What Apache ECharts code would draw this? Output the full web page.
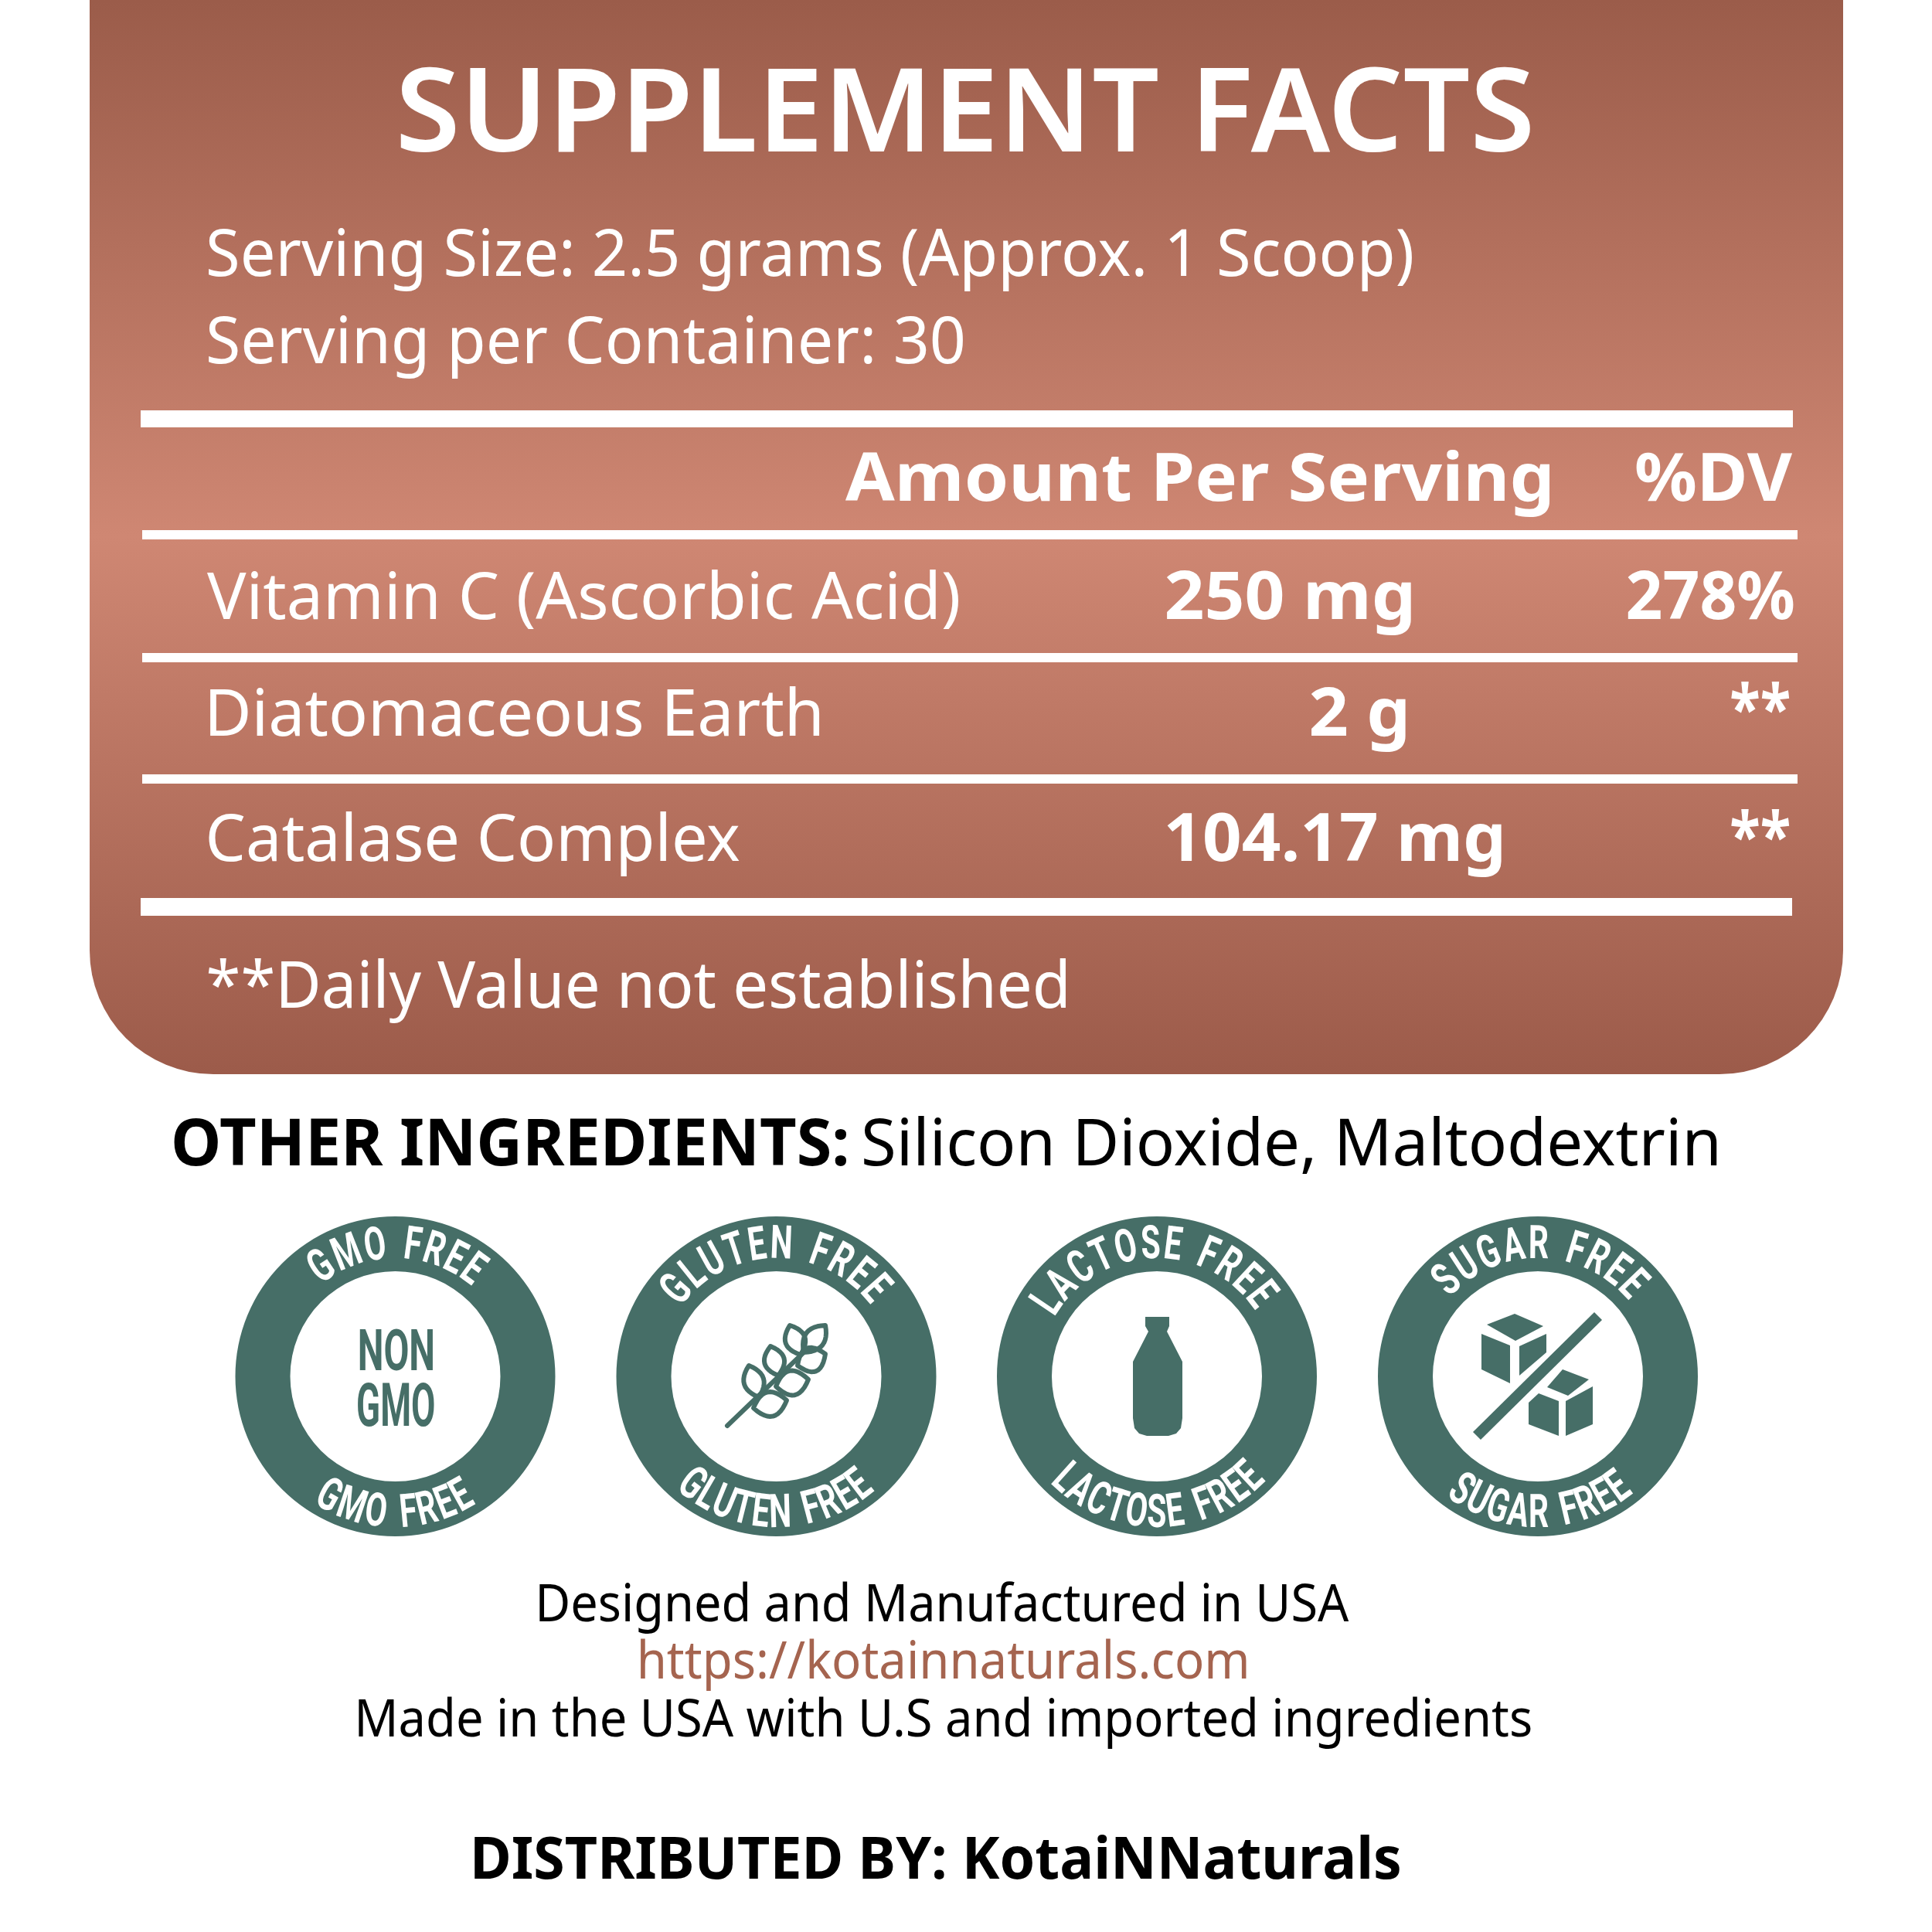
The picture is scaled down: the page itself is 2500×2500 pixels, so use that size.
<!DOCTYPE html>
<html><head><meta charset="utf-8">
<style>html,body{margin:0;padding:0;background:#fff}#c{width:2500px;height:2500px}</style>
<script src="https://cdn.jsdelivr.net/npm/echarts@6/dist/echarts.min.js"></script>
</head><body><div id="c"></div>
<script>
// ---- content ----
const titleText = 'SUPPLEMENT FACTS';
const servingLines = ['Serving Size: 2.5 grams (Approx. 1 Scoop)', 'Serving per Container: 30'];
const columnHeads = ['Amount Per Serving', '%DV'];
const ingredients = ['Vitamin C (Ascorbic Acid)', 'Diatomaceous Earth', 'Catalase Complex'];
const amounts = ['250 mg', '2 g', '104.17 mg'];
const dailyValues = ['278%', '**', '**'];
const footnote = '**Daily Value not established';
const otherLabel = 'OTHER INGREDIENTS:';
const otherValue = 'Silicon Dioxide, Maltodextrin';
const badgeLabels = ['GMO FREE', 'GLUTEN FREE', 'LACTOSE FREE', 'SUGAR FREE'];
const badgeCentre = ['NON', 'GMO'];
const madeLines = ['Designed and Manufactured in USA', 'https://kotainnaturals.com', 'Made in the USA with U.S and imported ingredients'];
const distributed = 'DISTRIBUTED BY: KotaiNNaturals';

// ---- style / layout ----
const FF = '"Noto Sans","Open Sans",sans-serif';
const NARROW = '"Liberation Sans Narrow","Roboto",sans-serif';
const TEAL = '#466e67', W = '#ffffff', K = '#000000';
const ctx = document.createElement('canvas').getContext('2d');
function fit(str, font, L, R, base, fill, z) {
  ctx.font = font; ctx.textBaseline = 'middle'; ctx.textAlign = 'left';
  const m = ctx.measureText(str);
  const ink = m.actualBoundingBoxRight + m.actualBoundingBoxLeft;
  const sx = (R - L) / ink;
  const H = ctx.measureText('H').actualBoundingBoxDescent;
  return { type: 'text', z: z || 5, x: L + 0.5 * m.actualBoundingBoxLeft * sx, y: base - H, scaleX: sx,
    style: { text: str, font, fill, textAlign: 'left', textVerticalAlign: 'middle' } };
}
function arc(cx, cy, r, str, a0, a1, bottom, font) {
  ctx.font = font; ctx.textBaseline = 'alphabetic'; ctx.textAlign = 'left';
  const adv = [...str].map(ch => ch === ' ' ? ctx.measureText('  ').width * 0.8 : ctx.measureText(ch).width);
  const pos = []; let s = 0;
  adv.forEach((w) => { pos.push(s + w / 2); s += w; });
  const first = pos[0], last = pos[pos.length - 1];
  const out = [];
  [...str].forEach((ch, i) => {
    if (ch === ' ') return;
    const d = (a0 + (a1 - a0) * (pos[i] - first) / (last - first)) * Math.PI / 180;
    out.push({ type: 'text', z: 6,
      x: cx + r * Math.sin(d), y: bottom ? cy + r * Math.cos(d) : cy - r * Math.cos(d),
      rotation: bottom ? d : -d, scaleX: 0.68,
      style: { text: ch, font, fill: W, textAlign: 'center', textVerticalAlign: 'middle' } });
  });
  return out;
}
function leaf(bx, by, tx, ty, b) {
  const dx = tx - bx, dy = ty - by, l = Math.hypot(dx, dy), nx = -dy / l, ny = dx / l;
  const pts = [];
  for (let k = 0; k <= 12; k++) {
    const u = k / 12, v = 4 * u * (1 - u) * b;
    pts.push([bx + dx * u + nx * v, by + dy * u + ny * v]);
  }
  for (let k = 11; k > 0; k--) {
    const u = k / 12, v = -4 * u * (1 - u) * b;
    pts.push([bx + dx * u + nx * v, by + dy * u + ny * v]);
  }
  return pts;
}
const panelStops = [
  { offset: 0, color: '#9b5c4a' }, { offset: 0.5, color: '#cf8773' }, { offset: 1, color: '#9c5b4a' }
];
const elements = [];
elements.push({ type: 'rect', z: 1, shape: { x: 116, y: 0, width: 2269, height: 1390, r: [0, 0, 160, 160] },
  style: { fill: { type: 'linear', x: 0, y: 0, x2: 0, y2: 1, colorStops: panelStops } } });
const rules = [[182, 531, 2138, 22], [184, 686, 2142, 12], [184, 845, 2142, 12], [184, 1002, 2142, 12], [182, 1162, 2137, 23]];
rules.forEach(r => elements.push({ type: 'rect', z: 2, shape: { x: r[0], y: r[1], width: r[2], height: r[3] }, style: { fill: W } }));

const REG = '400 84px ' + FF, BOLD = '700 86px ' + FF;
elements.push(fit(titleText, '600 150px ' + FF, 515, 1977, 196, W));
elements.push(fit(servingLines[0], REG, 268, 1825, 357, W));
elements.push(fit(servingLines[1], REG, 268, 1244, 470, W));
elements.push(fit(columnHeads[0], BOLD, 1094, 2006, 648, W));
elements.push(fit(columnHeads[1], BOLD, 2116, 2318, 648, W));
const rowBase = [801, 952, 1114], rowRight = [1240, 1057, 954];
const ampRange = [[1508, 1825], [1695, 1818], [1508, 1941]];
const dvRange = [[2105, 2319], [2239, 2315], [2239, 2315]], dvBase = [801, 948, 1113];
ingredients.forEach((s, i) => {
  elements.push(fit(s, REG, 268, rowRight[i], rowBase[i], W));
  elements.push(fit(amounts[i], BOLD, ampRange[i][0], ampRange[i][1], rowBase[i], W));
  elements.push(fit(dailyValues[i], BOLD, dvRange[i][0], dvRange[i][1], dvBase[i], W));
});
elements.push(fit(footnote, REG, 268, 1378, 1304, W));
elements.push(fit(otherLabel, '700 84px ' + FF, 223, 1094, 1508, K));
elements.push(fit(otherValue, '400 84px ' + FF, 1116, 2220, 1508, K));

const MID = '400 68px ' + FF;
elements.push(fit(madeLines[0], MID, 695, 1743, 2098, K));
elements.push(fit(madeLines[1], MID, 826, 1611, 2172, '#a5644f'));
elements.push(fit(madeLines[2], MID, 461, 1978, 2247, K));
elements.push(fit(distributed, '700 76px ' + FF, 611, 1808, 2431, K));

// ---- badges ----
const cxs = [511.5, 1004.5, 1497, 1990], CY = 1781;
const topSpan = [[-34, 36], [-49, 48.6], [-56, 52], [-43.5, 46]];
const botSpan = [[-29, 29], [-38, 37.5], [-42, 43], [-34, 36]];
const BF = '700 60px ' + NARROW;
cxs.forEach((cx, i) => {
  elements.push({ type: 'ring', z: 3, shape: { cx, cy: CY, r: 207, r0: 136 }, style: { fill: TEAL } });
  elements.push(...arc(cx, CY, 168, badgeLabels[i], topSpan[i][0], topSpan[i][1], false, BF));
  elements.push(...arc(cx, CY, 180, badgeLabels[i], botSpan[i][0], botSpan[i][1], true, BF));
});
// non-GMO
elements.push(fit(badgeCentre[0], '700 74px ' + NARROW, 464, 559, 1773, TEAL));
elements.push(fit(badgeCentre[1], '700 78px ' + NARROW, 462, 561, 1845, TEAL));
// wheat
const wheatLeaves = [
  [982, 1808, 969, 1767, 13], [1007, 1780, 997, 1742, 13], [1036, 1753, 1022, 1715, 13], [1040, 1750, 1068, 1715, 13],
  [975, 1822, 1018, 1812, 16], [1004, 1794, 1046, 1785, 16], [1032, 1767, 1068, 1752, 16]
];
const wheatStroke = { fill: null, stroke: TEAL, lineWidth: 6, lineCap: 'round', lineJoin: 'round' };
elements.push({ type: 'polyline', z: 4, shape: { points: [[941, 1845], [1040, 1750]] }, style: wheatStroke });
wheatLeaves.forEach(a => elements.push({ type: 'polygon', z: 4, shape: { points: leaf(...a) }, style: wheatStroke }));
// bottle
const bottleOutline = [[1482, 1704], [1513, 1704], [1513, 1716], [1510, 1723], [1530, 1762], [1530, 1835], [1528, 1848], [1522, 1855], [1512, 1858],
  [1484, 1858], [1474, 1855], [1468, 1848], [1466, 1835], [1466, 1762], [1486, 1723], [1482, 1716]];
elements.push({ type: 'polygon', z: 4, shape: { points: bottleOutline }, style: { fill: TEAL } });
// sugar cubes
const cubeFaces = [
  [[2063, 1698], [2073, 1708], [1916, 1863], [1906, 1853]],
  [[1924, 1714], [1960, 1700], [1997, 1716], [1961, 1735]],
  [[1917, 1726], [1954, 1741], [1954, 1790], [1917, 1772]],
  [[2001, 1726], [1966, 1742], [1966, 1780], [2001, 1750]],
  [[2022, 1772], [2056, 1785], [2029, 1806], [2002, 1795]],
  [[1991, 1803], [2017, 1813], [2017, 1858], [1978, 1843], [1978, 1815]],
  [[2061, 1794], [2061, 1843], [2026, 1858], [2026, 1813]]
];
cubeFaces.forEach(points => elements.push({ type: 'polygon', z: 4, shape: { points }, style: { fill: TEAL } }));

const chart = echarts.init(document.getElementById('c'), null, { renderer: 'canvas', width: 2500, height: 2500 });
chart.setOption({ backgroundColor: '#ffffff', animation: false, graphic: { elements } });
</script></body></html>
